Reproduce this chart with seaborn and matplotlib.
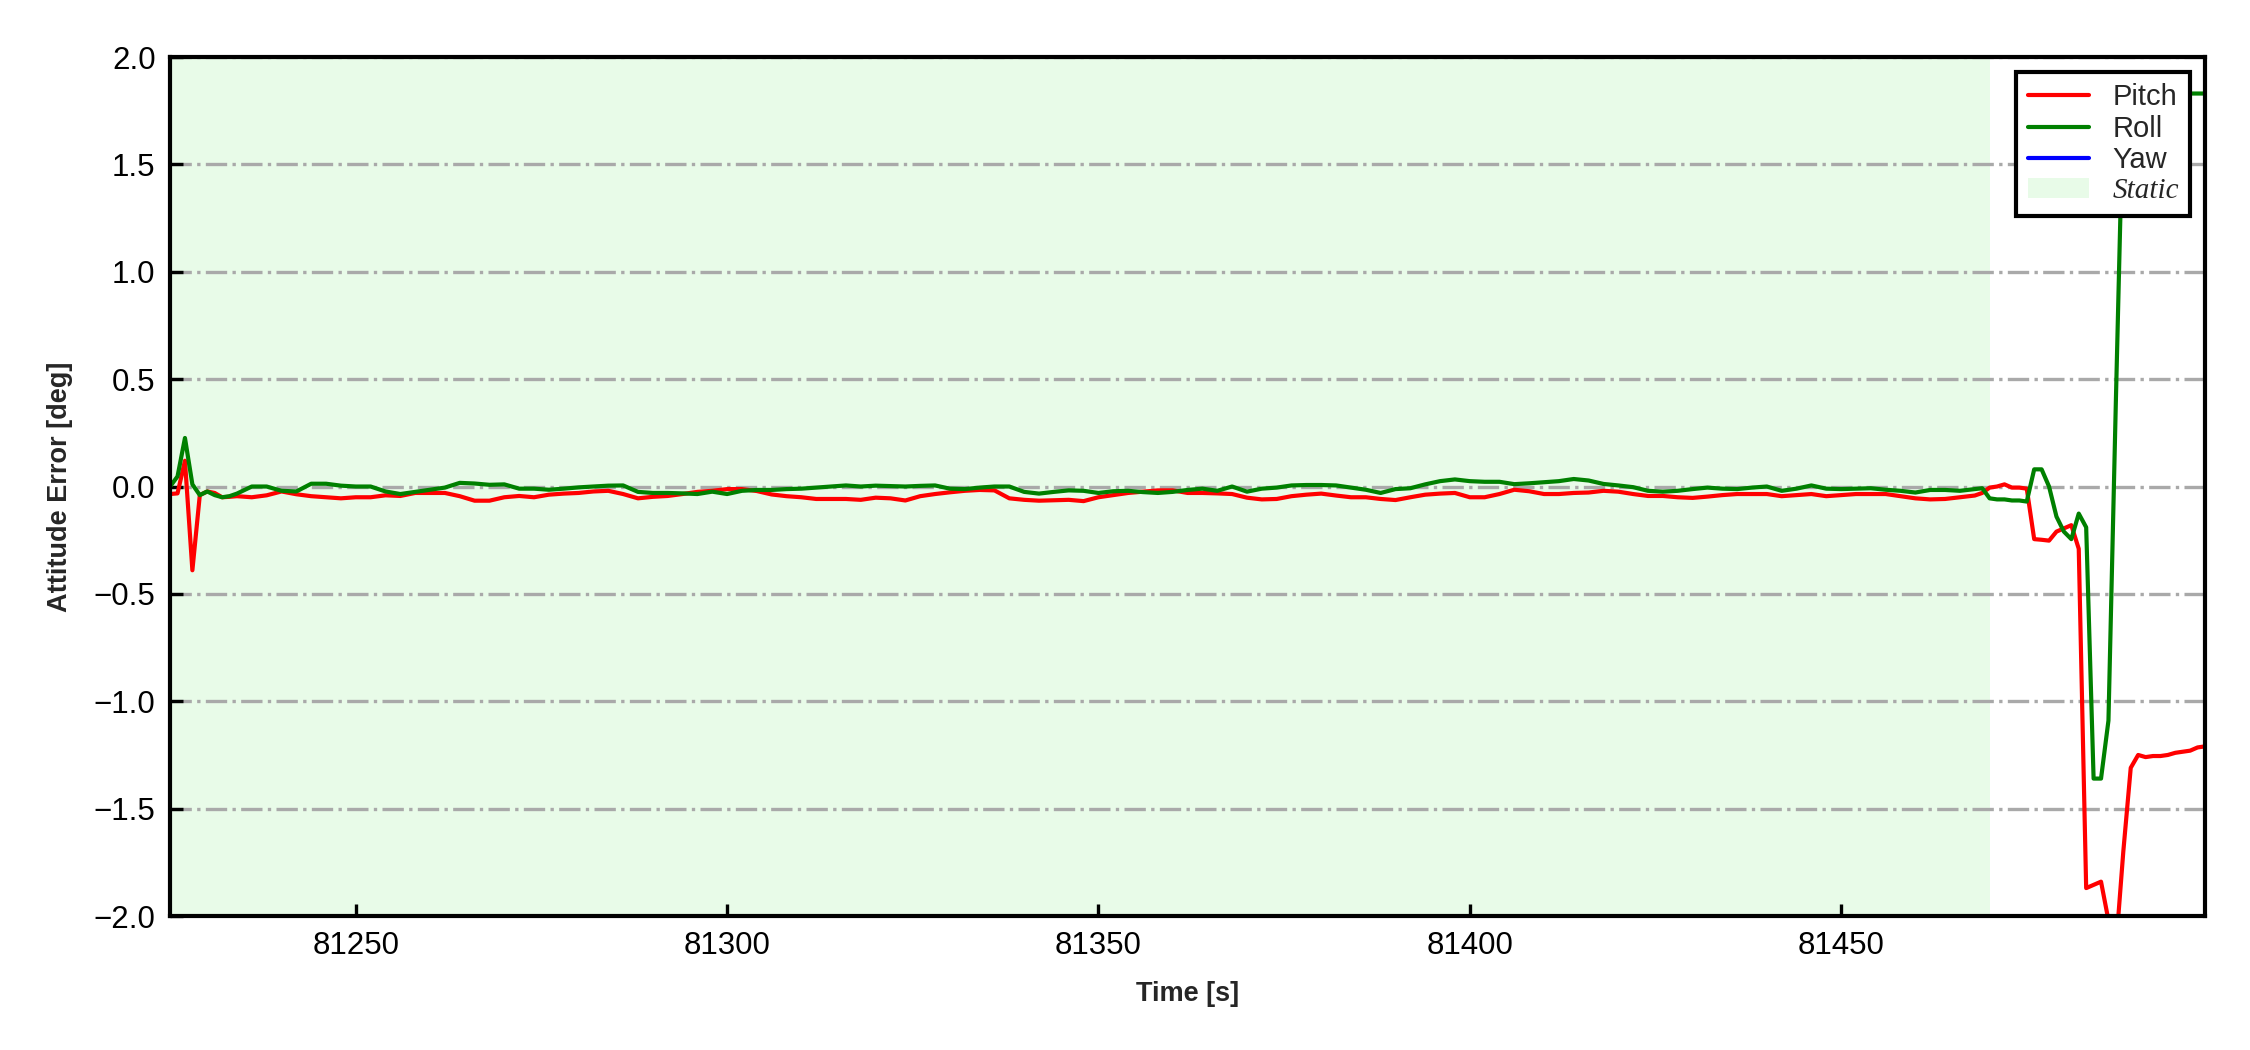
import numpy as np
import pandas as pd
import matplotlib.pyplot as plt
import seaborn as sns
from matplotlib.lines import Line2D
from matplotlib.patches import Patch

# time stamps [s]: 1 s at the start, 2 s in the static middle, 1 s at the end
time_head = np.arange(81225, 81235)
time_mid = np.arange(81236, 81469, 2)
time_tail = np.arange(81469, 81500)

pitch_head = [-0.035, -0.032, 0.12, -0.39, -0.04, -0.023, -0.03, -0.05, -0.048, -0.045]
pitch_mid = [
    -0.05, -0.041, -0.023, -0.036, -0.045, -0.05, -0.055, -0.05, -0.05, -0.041,
    -0.044, -0.03, -0.03, -0.03, -0.045, -0.066, -0.066, -0.05, -0.044, -0.05,
    -0.038, -0.033, -0.03, -0.023, -0.02, -0.035, -0.055, -0.048, -0.044, -0.035,
    -0.025, -0.02, -0.012, -0.012, -0.021, -0.037, -0.045, -0.05, -0.058, -0.058,
    -0.058, -0.062, -0.052, -0.055, -0.065, -0.045, -0.035, -0.027, -0.02, -0.016,
    -0.018, -0.055, -0.062, -0.066, -0.064, -0.062, -0.068, -0.05, -0.04, -0.03,
    -0.024, -0.018, -0.018, -0.03, -0.03, -0.032, -0.035, -0.052, -0.06, -0.058,
    -0.045, -0.038, -0.033, -0.042, -0.05, -0.05, -0.058, -0.063, -0.05, -0.038,
    -0.033, -0.03, -0.05, -0.05, -0.035, -0.015, -0.022, -0.035, -0.035, -0.03,
    -0.028, -0.02, -0.024, -0.035, -0.044, -0.044, -0.05, -0.053, -0.047, -0.04,
    -0.035, -0.035, -0.035, -0.045, -0.04, -0.035, -0.045, -0.04, -0.035, -0.035,
    -0.035, -0.045, -0.055, -0.06, -0.058, -0.05, -0.042,
]
pitch_tail = [
    -0.03, -0.005, 0.0, 0.01, -0.005, -0.005, -0.01, -0.245, -0.248, -0.252,
    -0.21, -0.195, -0.18, -0.29, -1.87, -1.855, -1.84, -2.02, -2.15, -1.7,
    -1.31, -1.25, -1.26, -1.255, -1.255, -1.25, -1.24, -1.235, -1.23, -1.215,
    -1.21,
]

roll_head = [0.0, 0.047, 0.226, 0.01, -0.04, -0.023, -0.04, -0.05, -0.045, -0.033]
roll_mid = [
    0.0, 0.0, -0.02, -0.023, 0.013, 0.013, 0.004, 0.0, 0.0, -0.023,
    -0.035, -0.025, -0.015, -0.005, 0.017, 0.014, 0.008, 0.01, -0.01, -0.01,
    -0.015, -0.01, -0.004, 0.0, 0.004, 0.005, -0.025, -0.03, -0.03, -0.032,
    -0.035, -0.024, -0.035, -0.02, -0.016, -0.016, -0.012, -0.01, -0.005, 0.0,
    0.005, 0.0, 0.004, 0.002, 0.0, 0.003, 0.005, -0.01, -0.012, -0.005,
    0.0, 0.0, -0.025, -0.033, -0.025, -0.018, -0.02, -0.03, -0.022, -0.02,
    -0.026, -0.03, -0.025, -0.016, -0.01, -0.02, 0.0, -0.024, -0.01, -0.005,
    0.005, 0.007, 0.007, 0.005, -0.005, -0.015, -0.03, -0.012, -0.008, 0.01,
    0.025, 0.033, 0.025, 0.022, 0.022, 0.011, 0.015, 0.02, 0.025, 0.035,
    0.028, 0.012, 0.005, -0.003, -0.02, -0.024, -0.02, -0.012, -0.005, -0.01,
    -0.012, -0.005, 0.0, -0.02, -0.01, 0.005, -0.01, -0.012, -0.01, -0.008,
    -0.015, -0.02, -0.028, -0.016, -0.016, -0.02, -0.012,
]
roll_tail = [
    -0.008, -0.055, -0.06, -0.06, -0.065, -0.065, -0.07, 0.08, 0.08, 0.0,
    -0.14, -0.21, -0.245, -0.126, -0.19, -1.36, -1.36, -1.09, 0.4, 1.82,
    1.825, 1.83, 1.83, 1.83, 1.83, 1.83, 1.83, 1.83, 1.83, 1.83,
    1.83,
]

# yaw error is not visible in the window
yaw_time = []
yaw_err = []

static_start, static_end = 81225, 81470
x_ticks = [81250, 81300, 81350, 81400, 81450]
y_ticks = [-2.0, -1.5, -1.0, -0.5, 0.0, 0.5, 1.0, 1.5, 2.0]

sns.set_theme(context='paper', style='ticks')
plt.rcParams['font.family'] = ['Liberation Sans', 'DejaVu Sans']

time = np.concatenate([time_head, time_mid, time_tail])
df = pd.DataFrame({
    'time': time,
    'Pitch': pitch_head + pitch_mid + pitch_tail,
    'Roll': roll_head + roll_mid + roll_tail,
})
long = df.melt(id_vars='time', var_name='axis', value_name='err')

fig, ax = plt.subplots(figsize=(7.5, 3.5), dpi=300)
fig.subplots_adjust(left=0.0756, right=0.98, top=0.9457, bottom=0.1276)

ax.axvspan(static_start, static_end, color='lightgreen', alpha=0.2, lw=0, zorder=0)
sns.lineplot(data=long, x='time', y='err', hue='axis',
             palette={'Pitch': 'red', 'Roll': 'green'},
             estimator=None, sort=False, lw=1.0, legend=False, ax=ax)
ax.plot(yaw_time, yaw_err, color='blue', lw=1.0)

ax.set_xlim(81225, 81499)
ax.set_ylim(-2, 2)
ax.set_xticks(x_ticks)
ax.set_yticks(y_ticks)
ax.set_xticklabels([str(t) for t in x_ticks])

ax.yaxis.grid(True, linestyle='-.', color='darkgray', lw=0.8)
ax.xaxis.grid(False)
for s in ax.spines.values():
    s.set_visible(True)
    s.set_linewidth(1.0)
    s.set_color('black')
ax.tick_params(direction='in', length=3, width=0.8, labelsize=7.5,
               colors='black', top=False, right=False)

ax.set_xlabel('Time [s]', fontsize=6.5, fontweight='bold', labelpad=5)
ax.set_ylabel('Attitude Error [deg]', fontsize=6.5, fontweight='bold', labelpad=5)

handles = [
    Line2D([], [], color='red', lw=1.0),
    Line2D([], [], color='green', lw=1.0),
    Line2D([], [], color='blue', lw=1.0),
    Patch(facecolor='lightgreen', alpha=0.2, lw=0),
]
leg = ax.legend(handles, ['Pitch', 'Roll', 'Yaw', 'Static'], loc='upper right',
                fontsize=7, frameon=True, fancybox=False, edgecolor='black',
                framealpha=1, labelspacing=0.12, handlelength=2.1,
                handletextpad=0.8, borderpad=0.4, borderaxespad=0.5)
leg.get_frame().set_linewidth(1.0)
static_txt = leg.get_texts()[3]
static_txt.set_fontfamily(['Liberation Serif', 'DejaVu Serif'])
static_txt.set_fontstyle('italic')

plt.savefig('out.png', dpi=300)
